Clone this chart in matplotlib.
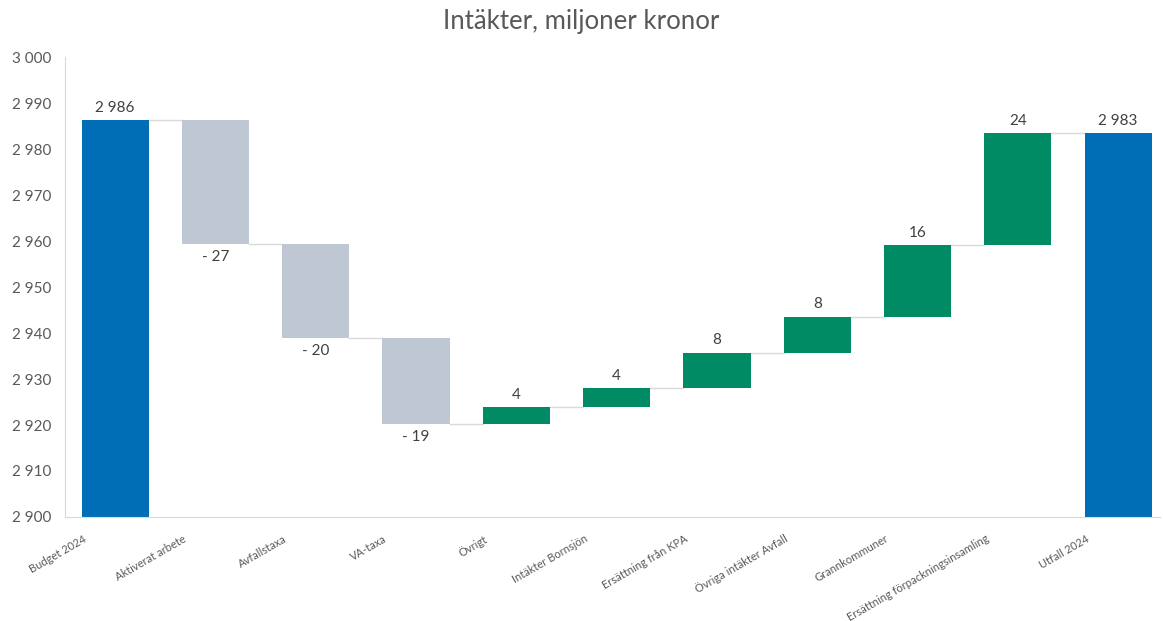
import matplotlib
matplotlib.use("Agg")
import matplotlib.pyplot as plt
import matplotlib.transforms as mtransforms
from matplotlib.ticker import FuncFormatter
import numpy as np

plt.rcParams['font.family'] = ['Lato', 'DejaVu Sans']

categories = ["Budget 2024", "Aktiverat arbete", "Avfallstaxa", "VA-taxa", "Övrigt",
              "Intäkter Bornsjön", "Ersättning från KPA", "Övriga intäkter Avfall",
              "Grannkommuner", "Ersättning förpackningsinsamling", "Utfall 2024"]
start_total = 2986.3
changes = [-27.0, -20.4, -18.7, 3.7, 4.1, 7.7, 7.8, 15.6, 24.3]
end_total = 2983.4

BLUE = "#006EB6"
GREY = "#BFC8D2"
GREEN = "#008B65"
TEXT = "#595959"
LABEL = "#404040"
LINE = "#D9D9D9"

fig = plt.figure(figsize=(11.63, 6.21), dpi=100)
ax = fig.add_axes([0.0559, 0.1675, 0.9415, 0.7405])

n = len(categories)
x = np.arange(n)
width = 0.67

bottoms, heights, colors = [], [], []
bottoms.append(0); heights.append(start_total); colors.append(BLUE)
running = start_total
levels = [start_total]
for c in changes:
    new = running + c
    bottoms.append(min(running, new))
    heights.append(abs(c))
    colors.append(GREEN if c > 0 else GREY)
    running = new
    levels.append(running)
bottoms.append(0); heights.append(end_total); colors.append(BLUE)
levels.append(end_total)

ax.bar(x, heights, bottom=bottoms, width=width, color=colors, zorder=2)

# connectors
for i in range(n - 1):
    ax.plot([x[i] + width / 2, x[i + 1] - width / 2], [levels[i], levels[i]],
            color=LINE, lw=1.0, zorder=1)

def fmt_num(v):
    return f"{abs(round(v)):,}".replace(",", " ")

# data labels
vals = [start_total] + changes + [end_total]
for i, v in enumerate(vals):
    top = bottoms[i] + heights[i]
    if i == 0 or i == n - 1 or v > 0:
        ax.annotate(fmt_num(v), (x[i], top), xytext=(0, 4), textcoords="offset points",
                    ha="center", va="bottom", fontsize=11, color=LABEL)
    else:
        ax.annotate("- " + fmt_num(v), (x[i], bottoms[i]), xytext=(0, -4),
                    textcoords="offset points", ha="center", va="top",
                    fontsize=11, color=LABEL)

ax.set_ylim(2900, 3000)
ax.set_xlim(-0.5, 10.417)
ax.set_yticks(np.arange(2900, 3001, 10))
ax.yaxis.set_major_formatter(FuncFormatter(lambda v, p: f"{int(v):,}".replace(",", " ")))
ax.tick_params(axis='y', length=0, labelsize=11, labelcolor=TEXT, pad=10)
ax.tick_params(axis='x', length=0)

ax.set_xticks(x)
ax.set_xticklabels(categories, rotation=30, ha="right", va="center",
                   rotation_mode="anchor", fontsize=8, color=TEXT)
offset = mtransforms.ScaledTranslation(-30 / 100, -16 / 100, fig.dpi_scale_trans)
for lbl in ax.get_xticklabels():
    lbl.set_transform(lbl.get_transform() + offset)

for s in ["top", "right"]:
    ax.spines[s].set_visible(False)
ax.spines["left"].set_color(LINE)
ax.spines["bottom"].set_color(LINE)
ax.spines["bottom"].set_zorder(3)

fig.text(0.5, 0.965, "Intäkter, miljoner kronor", ha="center", va="center",
         fontsize=18.5, color=TEXT)

fig.savefig("out.png", dpi=100)
